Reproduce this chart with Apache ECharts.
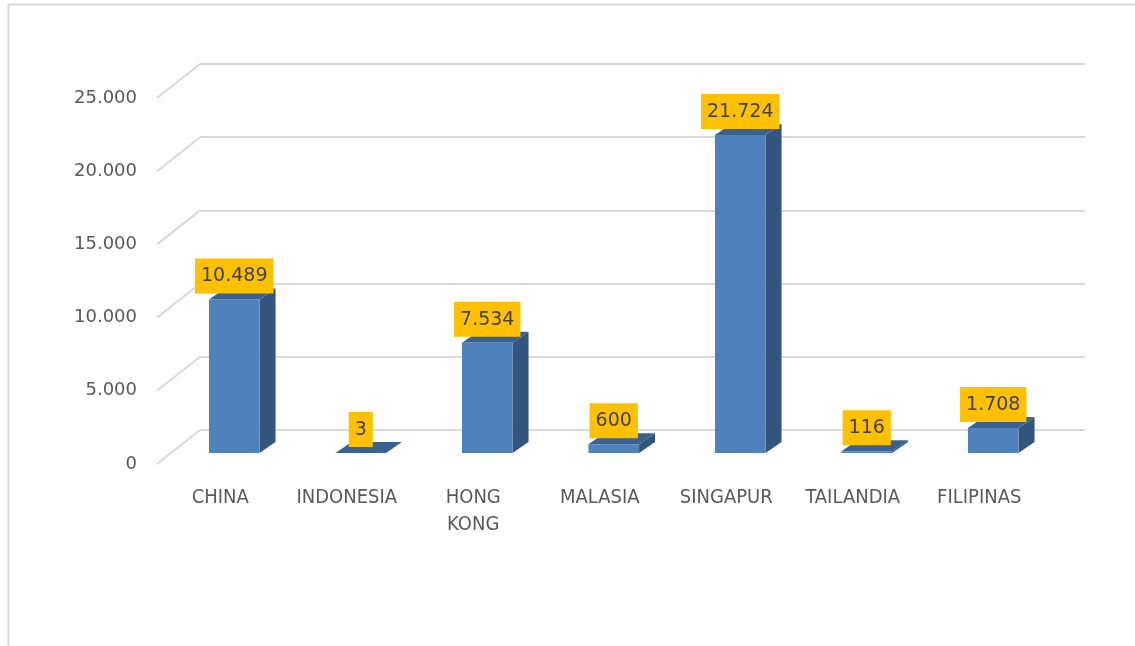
<!DOCTYPE html>
<html>
<head>
<meta charset="utf-8">
<script src="https://cdn.jsdelivr.net/npm/echarts@6/dist/echarts.min.js"></script>
<style>
  html, body { margin: 0; padding: 0; background: #ffffff; }
  #chart { width: 1135px; height: 646px; }
</style>
</head>
<body>
<div id="chart"></div>
<script>
// Categories and values (miles)
const categories = ['CHINA', 'INDONESIA', 'HONG KONG', 'MALASIA', 'SINGAPUR', 'TAILANDIA', 'FILIPINAS'];
const values = [10489, 3, 7534, 600, 21724, 116, 1708];
// Value-axis ticks
const yTicks = [0, 5000, 10000, 15000, 20000, 25000];

const Y_MAX = 25000;
const Y_STEP = 5000;

// Spanish-style thousands separator: 10489 -> "10.489"
function fmt(n) {
  return String(Math.round(n)).replace(/\B(?=(\d{3})+(?!\d))/g, '.');
}

// Depth of the pseudo-3D boxes
const DEPTH_X = 16, DEPTH_Y = -11;

const chart = echarts.init(document.getElementById('chart'), null, { renderer: 'canvas' });

const gridBase = { outerBoundsMode: 'none', containLabel: false, height: 366 };

const option = {
  backgroundColor: '#ffffff',
  animation: false,
  grid: [
    // back wall
    Object.assign({ left: 200, width: 885, top: 64 }, gridBase),
    // front edge (axis labels)
    Object.assign({ left: 157, width: 885.5, top: 98 }, gridBase),
    // bar plane
    Object.assign({ left: 171, width: 885.5, top: 87 }, gridBase)
  ],
  xAxis: [
    { gridIndex: 0, type: 'category', data: categories, show: false },
    {
      gridIndex: 1, type: 'category', data: categories,
      axisLine: { show: false }, axisTick: { show: false },
      axisLabel: {
        interval: 0, margin: 20,
        color: '#595959',
        fontFamily: "'Liberation Sans Narrow', 'DejaVu Sans Condensed', 'Liberation Sans', sans-serif",
        fontSize: 20, lineHeight: 27,
        formatter: v => v.replace(' ', '\n')
      }
    },
    { gridIndex: 2, type: 'category', data: categories, show: false }
  ],
  yAxis: [
    {
      gridIndex: 0, type: 'value', min: 0, max: Y_MAX, interval: Y_STEP,
      axisLabel: { show: false }, axisLine: { show: false }, axisTick: { show: false },
      splitLine: { show: true, lineStyle: { color: '#D9D9D9', width: 2 } }
    },
    {
      gridIndex: 1, type: 'value', min: 0, max: Y_MAX, interval: Y_STEP,
      axisLine: { show: false }, axisTick: { show: false }, splitLine: { show: false },
      axisLabel: {
        margin: 20, color: '#595959',
        fontFamily: "'DejaVu Sans', sans-serif", fontSize: 18,
        formatter: v => fmt(v)
      }
    },
    { gridIndex: 2, type: 'value', min: 0, max: Y_MAX, interval: Y_STEP, show: false }
  ],
  graphic: [
    // chart frame
    { type: 'line', z: 100, shape: { x1: 8, y1: 4.5, x2: 1135, y2: 4.5 }, style: { stroke: '#D9D9D9', lineWidth: 2 } },
    { type: 'line', z: 100, shape: { x1: 8.5, y1: 4, x2: 8.5, y2: 646 }, style: { stroke: '#D9D9D9', lineWidth: 2 } }
  ],
  series: [
    {
      // side-wall gridlines running from the front edge to the back wall
      type: 'custom',
      xAxisIndex: 0, yAxisIndex: 0,
      data: yTicks.map(t => [0, t]),
      z: 1,
      silent: true,
      renderItem: function (params, api) {
        const cs = params.coordSys;
        const p = api.coord([0, api.value(1)]);
        return {
          type: 'line',
          shape: { x1: cs.x - 43, y1: p[1] + 34, x2: cs.x, y2: p[1] },
          style: { stroke: '#D9D9D9', lineWidth: 2 }
        };
      }
    },
    {
      // 3D boxes with value labels
      type: 'custom',
      xAxisIndex: 2, yAxisIndex: 2,
      data: values.map((v, i) => [i, v]),
      z: 5,
      renderItem: function (params, api) {
        const i = api.value(0), v = api.value(1);
        const b = api.coord([i, 0]);
        const t = api.coord([i, v]);
        const w = api.size([1, 0])[0] * 0.4;
        const x0 = b[0] - w / 2, x1 = b[0] + w / 2;
        const yt = t[1], yb = b[1];
        return {
          type: 'group',
          children: [
            {
              type: 'polygon', z2: 1,
              shape: { points: [[x1, yt], [x1 + DEPTH_X, yt + DEPTH_Y], [x1 + DEPTH_X, yb + DEPTH_Y], [x1, yb]] },
              style: { fill: '#34557E' }
            },
            {
              type: 'polygon', z2: 2,
              shape: { points: [[x0, yt], [x0 + DEPTH_X, yt + DEPTH_Y], [x1 + DEPTH_X, yt + DEPTH_Y], [x1, yt]] },
              style: { fill: '#3B6191' }
            },
            {
              type: 'rect', z2: 3,
              shape: { x: x0, y: yt, width: w, height: Math.max(yb - yt, 0) },
              style: { fill: '#4F81BD' }
            },
            {
              type: 'text', z2: 10,
              x: b[0], y: yt - 6,
              style: {
                text: fmt(v),
                align: 'center', verticalAlign: 'bottom',
                fontFamily: "'DejaVu Sans', sans-serif", fontSize: 19, lineHeight: 22,
                fill: '#404040',
                backgroundColor: '#FFC000',
                padding: [7, 6, 6, 6]
              }
            }
          ]
        };
      }
    }
  ]
};

chart.setOption(option);
</script>
</body>
</html>
